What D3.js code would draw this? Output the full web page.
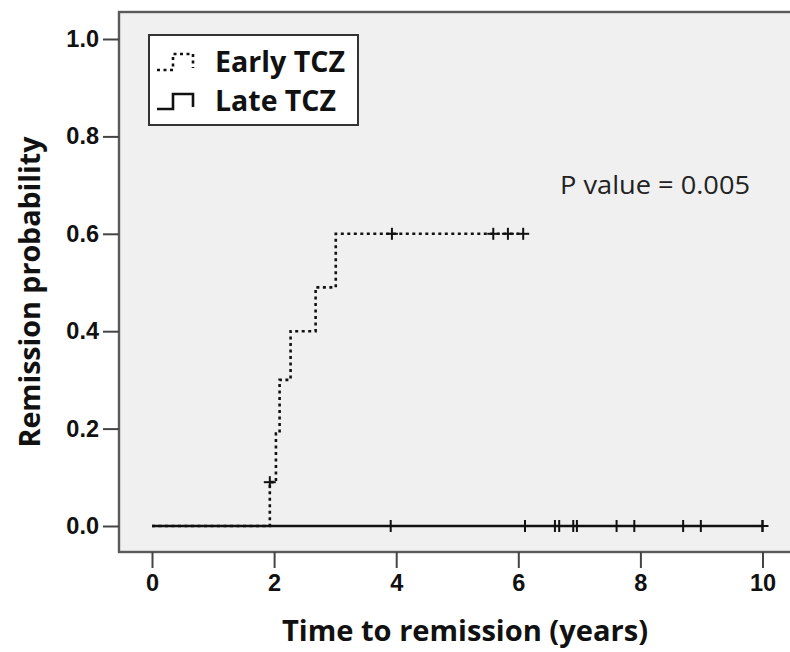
<!DOCTYPE html>
<html>
<head>
<meta charset="utf-8">
<script src="https://cdn.jsdelivr.net/npm/d3@7"></script>
<style>
  html, body { margin: 0; padding: 0; background: #ffffff; }
  svg { display: block; }
</style>
</head>
<body>
<div id="chart"></div>
<script>
// ---- Data ----
const xTicks = [0, 2, 4, 6, 8, 10];
const yTicks = [0.0, 0.2, 0.4, 0.6, 0.8, 1.0];
const seriesNames = ["Early TCZ", "Late TCZ"];
// Early TCZ: event times and cumulative remission probability after each event
const earlyEventTimes = [1.93, 2.03, 2.09, 2.27, 2.68, 3.01];
const earlyEventProbs = [0.09, 0.19, 0.30, 0.40, 0.49, 0.60];
const earlyCensorTimes = [1.93, 3.93, 5.59, 5.83, 6.08];
const earlyCensorProbs = [0.09, 0.60, 0.60, 0.60, 0.60];
// Late TCZ: no events, censored observations along 0
const lateEndTime = 10.0;
const lateCensorTimes = [3.91, 6.11, 6.60, 6.67, 6.90, 6.96, 7.61, 7.90, 8.70, 8.99, 10.0];
const pValueText = "P value = 0.005";
const xTitle = "Time to remission (years)";
const yTitle = "Remission probability";

// ---- Layout ----
const W = 790, H = 652;
const plot = { left: 119, top: 12, right: 795, bottom: 552 };

const svg = d3.select("#chart").append("svg").attr("width", W).attr("height", H);

const x = d3.scaleLinear().domain([0, 10]).range([152, 762.5]);
const y = d3.scaleLinear().domain([0, 1]).range([526, 39]);

// plot background
svg.append("rect")
  .attr("x", plot.left).attr("y", plot.top)
  .attr("width", plot.right - plot.left).attr("height", plot.bottom - plot.top)
  .attr("fill", "#f0f0f0").attr("stroke", "#5a5a5a").attr("stroke-width", 2.4);

// axes
const tickFont = "'Liberation Sans', Arial, sans-serif";
const xAxis = d3.axisBottom(x).tickValues(xTicks).tickSize(16).tickPadding(6).tickFormat(d3.format("d"));
const gx = svg.append("g").attr("transform", `translate(0,${plot.bottom})`).call(xAxis);
gx.select(".domain").remove();
gx.selectAll(".tick line").attr("stroke", "#444").attr("stroke-width", 2);
gx.selectAll(".tick text").attr("font-family", tickFont).attr("font-weight", "bold")
  .attr("font-size", 23.5).attr("fill", "#111");

const yAxis = d3.axisLeft(y).tickValues(yTicks).tickSize(16).tickPadding(4).tickFormat(d3.format(".1f"));
const gy = svg.append("g").attr("transform", `translate(${plot.left},0)`).call(yAxis);
gy.select(".domain").remove();
gy.selectAll(".tick line").attr("stroke", "#444").attr("stroke-width", 2);
gy.selectAll(".tick text").attr("font-family", tickFont).attr("font-weight", "bold")
  .attr("font-size", 23.5).attr("fill", "#111");

// ---- Step curves ----
function stepPoints(times, probs, endTime) {
  const pts = [[0, 0]];
  let p = 0;
  times.forEach((t, i) => { pts.push([t, p]); pts.push([t, probs[i]]); p = probs[i]; });
  pts.push([endTime, p]);
  return pts;
}
const line = d3.line().x(d => x(d[0])).y(d => y(d[1]));

const earlyEnd = d3.max(earlyCensorTimes);
const earlyPts = stepPoints(earlyEventTimes, earlyEventProbs, earlyEnd);
svg.append("path").attr("d", line(earlyPts)).attr("fill", "none")
  .attr("stroke", "#111").attr("stroke-width", 2.6).attr("stroke-dasharray", "3,3.5");

const latePts = [[0, 0], [lateEndTime, 0]];
svg.append("path").attr("d", line(latePts)).attr("fill", "none")
  .attr("stroke", "#111").attr("stroke-width", 2.6);

// censor marks
function censor(t, p, hw) {
  const g = svg.append("g").attr("stroke", "#111").attr("stroke-width", 2);
  g.append("line").attr("x1", x(t)).attr("x2", x(t)).attr("y1", y(p) - 6).attr("y2", y(p) + 6);
  g.append("line").attr("x1", x(t) - hw).attr("x2", x(t) + hw).attr("y1", y(p)).attr("y2", y(p));
}
earlyCensorTimes.forEach((t, i) => censor(t, earlyCensorProbs[i], 6));
lateCensorTimes.forEach(t => censor(t, 0, 0));
censor(lateEndTime, 0, 6);

// ---- Legend ----
const lg = svg.append("g");
lg.append("rect").attr("x", 149).attr("y", 35).attr("width", 209).attr("height", 90)
  .attr("fill", "#ffffff").attr("stroke", "#333").attr("stroke-width", 2);
const legendSym = (yLow, yHigh) => [[157, yLow], [173, yLow], [173, yHigh], [193, yHigh], [193, yLow - 2]];
const lline = d3.line();
lg.append("path").attr("d", lline(legendSym(70, 54))).attr("fill", "none")
  .attr("stroke", "#111").attr("stroke-width", 2.6).attr("stroke-dasharray", "3,3.5");
lg.append("path").attr("d", lline(legendSym(109, 94))).attr("fill", "none")
  .attr("stroke", "#111").attr("stroke-width", 2.6);
const labFont = "'Open Sans', 'Noto Sans', sans-serif";
lg.append("text").attr("x", 215).attr("y", 72).text(seriesNames[0])
  .attr("font-family", labFont).attr("font-weight", "bold").attr("font-size", 28).attr("fill", "#111")
  .attr("textLength", 130).attr("lengthAdjust", "spacingAndGlyphs");
lg.append("text").attr("x", 215).attr("y", 111).text(seriesNames[1])
  .attr("font-family", labFont).attr("font-weight", "bold").attr("font-size", 28).attr("fill", "#111")
  .attr("textLength", 121).attr("lengthAdjust", "spacingAndGlyphs");

// P value
svg.append("text").attr("x", 560).attr("y", 194).text(pValueText)
  .attr("font-family", labFont).attr("font-size", 25).attr("fill", "#222")
  .attr("textLength", 190).attr("lengthAdjust", "spacingAndGlyphs");

// Axis titles
svg.append("text").attr("x", 465).attr("y", 641).attr("text-anchor", "middle").text(xTitle)
  .attr("font-family", labFont).attr("font-weight", "bold").attr("font-size", 28).attr("fill", "#111")
  .attr("textLength", 366).attr("lengthAdjust", "spacingAndGlyphs");
svg.append("text").attr("transform", "translate(40,292) rotate(-90)").attr("text-anchor", "middle").text(yTitle)
  .attr("font-family", labFont).attr("font-weight", "bold").attr("font-size", 28).attr("fill", "#111")
  .attr("textLength", 311).attr("lengthAdjust", "spacingAndGlyphs");
</script>
</body>
</html>
